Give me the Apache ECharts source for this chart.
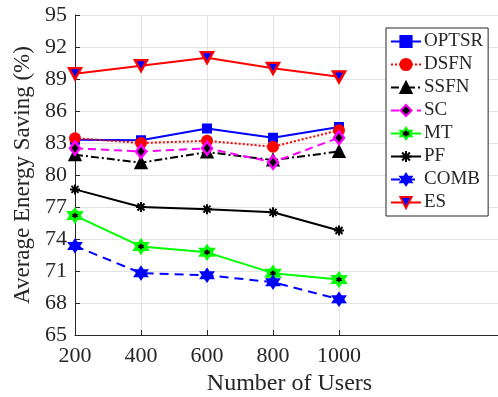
<!DOCTYPE html>
<html>
<head>
<meta charset="utf-8">
<script src="https://cdn.jsdelivr.net/npm/echarts@6/dist/echarts.min.js"></script>
<style>html,body{margin:0;padding:0;background:#fff}#c{width:498px;height:397px}</style>
</head>
<body>
<div id="c"></div>
<script>
const users = [200, 400, 600, 800, 1000];
const optsr = [83.3, 83.25, 84.35, 83.5, 84.5];
const dsfn = [83.45, 83.0, 83.2, 82.65, 84.2];
const ssfn = [81.9, 81.15, 82.15, 81.4, 82.2];
const sc = [82.5, 82.2, 82.5, 81.2, 83.5];
const mt = [76.2, 73.3, 72.75, 70.8, 70.2];
const pf = [78.65, 77.0, 76.8, 76.5, 74.8];
const comb = [73.35, 70.8, 70.6, 69.95, 68.35];
const es = [89.5, 90.25, 91.0, 90.0, 89.2];
const xTicks = [200, 400, 600, 800, 1000];

const FONT = 'Liberation Serif';
const AX = '#262626';
const HEX = 'path://M0,-10 L2.89,-5 L8.66,-5 L5.77,0 L8.66,5 L2.89,5 L0,10 L-2.89,5 L-8.66,5 L-5.77,0 L-8.66,-5 L-2.89,-5 Z';
const AST = 'path://M0,-10 L0,10 M-10,0 L10,0 M-7,-7 L7,7 M-7,7 L7,-7';
const TRI_DOWN = 'path://M0,0 L10,0 L5,9 Z';

function pair(xs, ys) { return xs.map((x, i) => [x, ys[i]]); }

function mk(name, ys, lineColor, lineType, symbol, size, face, edge, bw) {
  return {
    name, type: 'line', data: pair(users, ys),
    symbol, symbolSize: size, showSymbol: true,
    lineStyle: { color: lineColor, width: 2, type: lineType },
    itemStyle: { color: face, borderColor: edge, borderWidth: bw },
    emphasis: { disabled: true },
    animation: false
  };
}

const chart = echarts.init(document.getElementById('c'), null, { renderer: 'canvas' });
chart.setOption({
  animation: false,
  backgroundColor: '#fff',
  textStyle: { fontFamily: FONT },
  grid: { left: 75, top: 15, width: 429, bottom: 62, containLabel: false, outerBoundsMode: 'none' },
  xAxis: {
    type: 'value', min: 200, max: 1500, interval: 200,
    name: 'Number of Users', nameLocation: 'middle', nameGap: 36,
    nameTextStyle: { fontFamily: FONT, fontSize: 24, color: AX },
    axisLine: { show: true, lineStyle: { color: AX, width: 1 } },
    axisTick: { show: true, inside: true, length: 5, lineStyle: { color: AX }, customValues: xTicks },
    axisLabel: { fontFamily: FONT, fontSize: 22, color: AX, margin: 10, customValues: xTicks,
      formatter: v => String(v) },
    splitLine: { show: true, lineStyle: { color: '#e3e3e3', width: 1 } }
  },
  yAxis: {
    type: 'value', min: 65, max: 95, interval: 3,
    name: 'Average Energy Saving (%)', nameLocation: 'middle', nameGap: 38,
    nameTextStyle: { fontFamily: FONT, fontSize: 23, color: AX },
    axisLine: { show: true, lineStyle: { color: AX, width: 1 } },
    axisTick: { show: true, inside: true, length: 5, lineStyle: { color: AX } },
    axisLabel: { fontFamily: FONT, fontSize: 22, color: AX, margin: 8, formatter: v => String(v) },
    splitLine: { show: true, lineStyle: { color: '#e3e3e3', width: 1 } }
  },
  legend: {
    orient: 'vertical', left: 386, top: 28,
    padding: [4, 5, 4, 4], itemGap: 4, itemWidth: 30, itemHeight: 14,
    backgroundColor: '#fff', borderColor: AX, borderWidth: 1, borderRadius: 0,
    textStyle: { fontFamily: FONT, fontSize: 19, color: AX, padding: [0, 0, 0, -2] },
    data: ['OPTSR', 'DSFN', 'SSFN', 'SC', 'MT', 'PF', 'COMB', 'ES']
  },
  series: [
    mk('OPTSR', optsr, '#0000ff', 'solid', 'rect', 8, '#0000ff', '#0000ff', 2),
    mk('DSFN', dsfn, '#ff0000', [2, 2], 'circle', 10, '#ff0000', '#ff0000', 2),
    mk('SSFN', ssfn, '#000000', [8, 3, 2, 3], 'triangle', 11, '#000000', '#000000', 2),
    mk('SC', sc, '#ff00ff', [8, 5], 'diamond', [10, 13], '#000000', '#ff00ff', 2.5),
    mk('MT', mt, '#00ff00', 'solid', HEX, 12, '#000000', '#00ff00', 3),
    mk('PF', pf, '#000000', 'solid', AST, 10, '#000000', '#000000', 2),
    mk('COMB', comb, '#0000ff', [9, 6], HEX, 13, '#0000ff', '#0000ff', 1.5),
    mk('ES', es, '#ff0000', 'solid', TRI_DOWN, [12, 11], '#0000ff', '#ff0000', 2.5)
  ]
});
</script>
</body>
</html>
